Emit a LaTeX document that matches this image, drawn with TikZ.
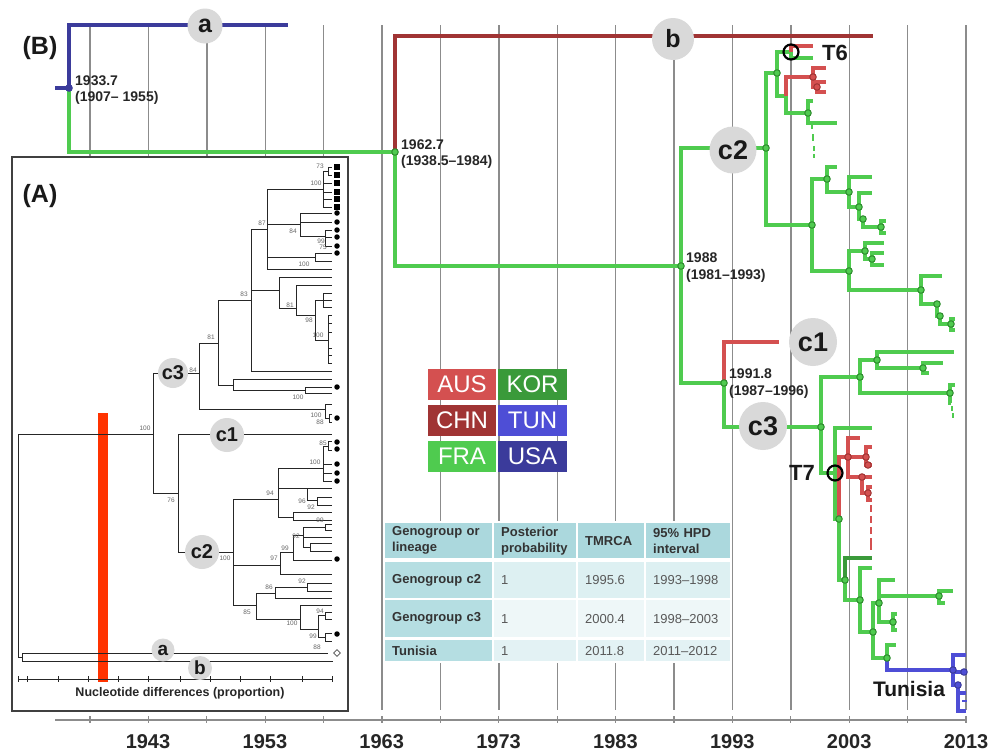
\documentclass[tikz,border=0pt]{standalone}
\usepackage{fontspec}
\setmainfont{Liberation Sans}
\usetikzlibrary{shapes.geometric}
\definecolor{fraC}{HTML}{4FCB4F}
\definecolor{fraD}{HTML}{2E8B2E}
\definecolor{ausC}{HTML}{D45050}
\definecolor{chnC}{HTML}{A03434}
\definecolor{korC}{HTML}{3A9A3A}
\definecolor{tunC}{HTML}{4E4ED6}
\definecolor{usaC}{HTML}{3B3B9B}
\definecolor{gridC}{HTML}{8C8C8C}
\definecolor{circC}{HTML}{D9D9D9}
\definecolor{thC}{HTML}{ABD8DD}
\definecolor{tcA}{HTML}{B5DEE2}
\definecolor{tbA}{HTML}{DDF0F2}
\definecolor{tbB}{HTML}{EEF7F8}
\definecolor{tbC}{HTML}{E3F2F4}
\definecolor{redbar}{HTML}{FF3300}
\begin{document}
\begin{tikzpicture}[x=1pt,y=-1pt]
\tikzset{
 br/.style={line width=3.2pt},
 fra/.style={br, draw=fraC},
 aus/.style={br, draw=ausC},
 chn/.style={br, draw=chnC},
 kor/.style={br, draw=korC},
 tun/.style={br, draw=tunC},
 usa/.style={br, draw=usaC},
 gdot/.style={circle, inner sep=0pt, minimum size=6.5pt, line width=1pt, draw=fraD, fill=fraC},
 rdot/.style={gdot, draw=chnC, fill=ausC},
 bdot/.style={gdot, draw=usaC, fill=tunC},
 ring/.style={circle, inner sep=0pt, minimum size=15pt, draw=black, line width=2.2pt},
 bigc/.style={circle, inner sep=0pt, fill=circC, font=\fontsize{27}{30}\selectfont\bfseries, text=black!90},
 smc/.style={circle, inner sep=0pt, fill=circC, font=\fontsize{20}{24}\selectfont\bfseries, text=black!90},
 nlbl/.style={anchor=west, inner sep=0pt, font=\fontsize{14}{16}\selectfont\bfseries, text=black!85},
 tlbl/.style={inner sep=0pt, font=\fontsize{22}{26}\selectfont\bfseries, text=black!90},
 yearl/.style={inner sep=0pt, font=\fontsize{20}{24}\selectfont\bfseries, text=black!85},
 gridl/.style={draw=gridC, line width=1.4pt},
 pa/.style={draw=black!85, line width=1pt},
 supl/.style={inner sep=0pt, font=\fontsize{6.5}{7}\selectfont, text=black!60},
 leg/.style={rectangle, inner sep=0pt, minimum height=31pt, text=white, font=\fontsize{24}{28}\selectfont},
 cell/.style={anchor=north west, inner xsep=7pt, inner ysep=0pt, align=left, font=\fontsize{13}{16}\selectfont, text=black!65},
 panl/.style={inner sep=0pt, font=\fontsize{25}{30}\selectfont\bfseries, text=black!90},
}
\useasboundingbox (0,0) rectangle (1006,755);
\fill[white] (0,0) rectangle (1006,755);

% grid
\foreach \k in {0,...,15} \draw[gridl] ({90+58.4*\k},25) -- ({90+58.4*\k},710);
% axis
\draw[draw=gridC, line width=1.4pt] (55,720) -- (967,720);
\foreach \k in {0,...,15} \draw[draw=gridC, line width=1.2pt] ({90+58.4*\k},716) -- ({90+58.4*\k},723);
\foreach \yr/\xx [count=\i] in {1943/148,1953/264.9,1963/381.7,1973/498.6,1983/615.4,1993/732.3,2003/849.2,2013/966}
  \node[yearl] (yr\i) at (\xx,742) {\yr};

% ---------- Panel A ----------
\draw[line width=1.5pt, draw=black!75, fill=white] (12,157) rectangle (348,711);
\node[panl] (labA) at (40,196) {(A)};
\fill[redbar] (98,413) rectangle (108,682);
\draw[pa]
 (18,434)--(18,657) (18,434)--(153,434) (18,657)--(22,657) (22,653)--(22,661)
 (22,653)--(328,653) (22,661)--(333,661)
 (153,373)--(153,493) (153,373)--(199,373) (153,493)--(178,493)
 (178,434)--(178,552) (178,434)--(332,434) (178,552)--(233,552)
 (199,343)--(199,409) (199,343)--(218,343) (199,409)--(325,409)
 (325,404)--(325,418) (325,404)--(332,404) (325,418)--(329,418) (329,414)--(329,422)
 (329,414)--(332,414) (329,422)--(332,422)
 (218,300)--(218,385) (218,300)--(251,300) (218,385)--(233,385)
 (233,379)--(233,390) (233,379)--(332,379) (233,390)--(305,390)
 (305,387)--(305,393) (305,387)--(332,387) (305,393)--(332,393)
 (251,229)--(251,371) (251,229)--(267,229) (251,290)--(279,290) (251,371)--(332,371)
 (279,277)--(279,308) (279,277)--(332,277) (279,308)--(296,308)
 (296,285)--(296,315) (296,285)--(332,285) (296,315)--(315,315)
 (315,300)--(315,340) (315,300)--(323,300) (323,293)--(323,307) (323,293)--(332,293)
 (323,300)--(332,300) (323,307)--(332,307) (315,340)--(328,340) (328,315)--(328,363)
 (328,315)--(332,315) (328,323)--(332,323) (328,332)--(332,332) (328,348)--(332,348)
 (328,355)--(332,355) (328,363)--(332,363)
 (267,189)--(267,269) (267,189)--(323,189) (267,224)--(300,224) (267,257)--(315,257) (267,269)--(332,269)
 (323,171)--(323,207) (323,171)--(328,171) (328,167)--(328,175) (328,167)--(332,167)
 (328,175)--(332,175) (323,183)--(332,183) (323,192)--(332,192) (323,199)--(332,199) (323,207)--(332,207)
 (300,213)--(300,236) (300,213)--(332,213) (300,222)--(332,222) (300,236)--(325,236)
 (325,230)--(325,246) (325,230)--(332,230) (325,237)--(332,237) (325,246)--(332,246)
 (315,253)--(315,261) (315,253)--(332,253) (315,261)--(332,261)
 (233,499)--(233,605) (233,499)--(278,499) (233,565)--(280,565) (233,605)--(256,605)
 (278,468)--(278,517) (278,468)--(323,468) (278,488)--(307,488) (278,517)--(293,517)
 (323,446)--(323,481) (323,446)--(328,446) (328,441)--(328,450) (328,441)--(332,441)
 (328,450)--(332,450) (323,464)--(332,464) (323,473)--(332,473) (323,481)--(332,481)
 (307,488)--(307,500) (307,488)--(332,488) (307,500)--(317,500) (317,497)--(317,505)
 (317,497)--(332,497) (317,505)--(332,505)
 (293,512)--(293,520) (293,512)--(332,512) (293,520)--(332,520)
 (280,552)--(280,574) (280,574)--(332,574) (280,552)--(293,552)
 (293,535)--(293,560) (293,560)--(332,560) (293,535)--(303,535)
 (303,527)--(303,547) (303,527)--(325,527) (325,524)--(325,530) (325,524)--(332,524)
 (325,530)--(332,530) (303,537)--(332,537) (303,547)--(310,547) (310,543)--(310,551)
 (310,543)--(332,543) (310,551)--(332,551)
 (256,593)--(256,619) (256,593)--(275,593) (256,619)--(300,619)
 (275,587)--(275,598) (275,587)--(307,587) (275,598)--(332,598)
 (307,583)--(307,591) (307,583)--(332,583) (307,591)--(332,591)
 (300,605)--(300,629) (300,605)--(332,605) (300,629)--(318,629)
 (318,615)--(318,637) (318,615)--(325,615) (325,612)--(325,619) (325,612)--(332,612)
 (325,619)--(332,619) (318,637)--(325,637) (325,633)--(325,641) (325,633)--(332,633) (325,641)--(332,641);
% tip markers
\foreach \yy [count=\i] in {167,175,183,192,199,207}
  \node[rectangle, fill=black, inner sep=0pt, minimum size=5.5pt] (sq\i) at (337,\yy) {};
\foreach \yy [count=\i] in {213,222,230,237,246,253,387,418,442,449,464,473,481,559,634}
  \node[circle, fill=black, inner sep=0pt, minimum size=5.5pt] (bd\i) at (337,\yy) {};
\node[diamond, draw=black!70, fill=white, inner sep=0pt, minimum size=7pt, line width=0.7pt] (dia) at (337,653) {};
% support values
\foreach \t/\xx/\yy [count=\i] in {73/320/166,100/316/183,84/293/231,99/321/241,75/323/247,100/304/264,
  87/262/223,83/244/294,81/290/305,98/309/320,100/318/335,81/211/337,84/193/370,100/298/397,
  100/316/415,88/320/422,100/145/428,76/171/500,100/225/558,94/270/493,100/315/462,85/323/443,
  96/302/501,92/311/507,99/320/520,92/296/536,99/285/548,97/274/558,86/269/587,92/302/581,
  85/247/612,100/292/623,94/320/611,99/313/636,88/317/647}
  \node[supl] (sv\i) at (\xx,\yy) {\t};
% scale
\draw[pa] (18,679) -- (332,679);
\foreach \xx [count=\i] in {18,27,58,88,118,148,180,210,240,270,302,332}
  \draw[pa] (\xx,676) -- (\xx,682);
\node[inner sep=0pt, font=\fontsize{12.5}{14}\selectfont\bfseries, text=black!85] (ndp) at (180,693) {Nucleotide differences (proportion)};
% circles panel A
\node[smc, minimum size=30pt] (Ac3) at (173,373) {c3};
\node[smc, minimum size=34pt] (Ac1) at (227,435) {c1};
\node[smc, minimum size=34pt] (Ac2) at (202,552) {c2};
\node[smc, minimum size=23pt, font=\fontsize{19}{22}\selectfont\bfseries] (Aa) at (163,650) {a};
\node[smc, minimum size=24pt, font=\fontsize{19}{22}\selectfont\bfseries] (Ab) at (200,668) {b};

% ---------- Legend ----------
\node[leg, fill=ausC, minimum width=68pt] (lAUS) at (462,384.5) {AUS};
\node[leg, fill=korC, minimum width=69pt] (lKOR) at (532.5,384.5) {KOR};
\node[leg, fill=chnC, minimum width=68pt] (lCHN) at (462,420) {CHN};
\node[leg, fill=tunC, minimum width=69pt] (lTUN) at (532.5,420) {TUN};
\node[leg, fill=fraC, minimum width=68pt] (lFRA) at (462,456) {FRA};
\node[leg, fill=usaC, minimum width=69pt] (lUSA) at (532.5,456) {USA};

% ---------- Table ----------
\fill[white] (383,521) rectangle (732,663);
\node[cell, fill=thC, text width=93pt, minimum height=35pt, font=\fontsize{13}{16}\selectfont\bfseries, text=black!80] (h1) at (385,523) {Genogroup or\\lineage};
\node[cell, fill=thC, text width=68pt, minimum height=35pt, font=\fontsize{13}{16}\selectfont\bfseries, text=black!80] (h2) at (494,523) {Posterior\\probability};
\node[cell, fill=thC, text width=52pt, minimum height=35pt, font=\fontsize{13}{16}\selectfont\bfseries, text=black!80] (h3) at (578,523) {TMRCA};
\node[cell, fill=thC, text width=70pt, minimum height=35pt, font=\fontsize{13}{16}\selectfont\bfseries, text=black!80] (h4) at (646,523) {95\% HPD\\interval};
\node[cell, fill=tcA, text width=93pt, minimum height=36pt, font=\fontsize{13}{16}\selectfont\bfseries, text=black!80] (a1) at (385,562) {Genogroup c2};
\node[cell, fill=tbA, text width=68pt, minimum height=36pt] (a2) at (494,562) {1};
\node[cell, fill=tbA, text width=52pt, minimum height=36pt] (a3) at (578,562) {1995.6};
\node[cell, fill=tbA, text width=70pt, minimum height=36pt] (a4) at (646,562) {1993–1998};
\node[cell, fill=tcA, text width=93pt, minimum height=37pt, font=\fontsize{13}{16}\selectfont\bfseries, text=black!80] (b1c) at (385,600) {Genogroup c3};
\node[cell, fill=tbB, text width=68pt, minimum height=37pt] (b2c) at (494,600) {1};
\node[cell, fill=tbB, text width=52pt, minimum height=37pt] (b3c) at (578,600) {2000.4};
\node[cell, fill=tbB, text width=70pt, minimum height=37pt] (b4c) at (646,600) {1998–2003};
\node[cell, fill=tcA, text width=93pt, minimum height=21pt, font=\fontsize{13}{16}\selectfont\bfseries, text=black!80] (c1c) at (385,640) {Tunisia};
\node[cell, fill=tbC, text width=68pt, minimum height=21pt] (c2c) at (494,640) {1};
\node[cell, fill=tbC, text width=52pt, minimum height=21pt] (c3c) at (578,640) {2011.8};
\node[cell, fill=tbC, text width=70pt, minimum height=21pt] (c4c) at (646,640) {2011–2012};

% ---------- Panel B tree ----------
\node[panl] (labB) at (40,48) {(B)};
\coordinate (rin) at (55,88);
\coordinate (r0) at (69,88);
\coordinate (aend) at (288,25);
\coordinate (n62) at (395,152);
\coordinate (bend) at (873,36);
\coordinate (n88) at (681,266);
\coordinate (n91) at (724,383);
\coordinate (c2n) at (766,148);
\coordinate (c1end) at (779,342);
\coordinate (c3n) at (821,427);
\draw[usa] (rin) -- (r0);
\draw[usa] (r0) |- (aend);
\draw[fra] (r0) |- (n62);
\draw[chn] (n62) |- (bend);
\draw[fra] (n62) |- (n88);
\draw[fra] (n88) |- (c2n);
\draw[fra] (n88) |- (n91);
\draw[aus] (n91) |- (c1end);
\draw[fra] (n91) |- (c3n);

% c2 subtree
\coordinate (u1) at (777,73);
\coordinate (t6n) at (791,52);
\coordinate (u2) at (786,96);
\coordinate (r1) at (813,77);
\coordinate (r2) at (817,87);
\coordinate (u3) at (808,113);
\coordinate (l1) at (812,225);
\coordinate (m1) at (827,179);
\coordinate (m3) at (849,192);
\coordinate (m4) at (859,207);
\coordinate (m6) at (863,219);
\coordinate (m7) at (881,227);
\coordinate (m2) at (849,271);
\coordinate (m8) at (865,251);
\coordinate (m10) at (872,259);
\coordinate (m9) at (921,290);
\coordinate (m11) at (937,304);
\coordinate (m12) at (940,316);
\coordinate (m13) at (951,324);
\draw[fra] (c2n) |- (u1);
\draw[fra] (c2n) |- (l1);
\draw[fra] (u1) |- (t6n);
\draw[fra] (u1) |- (u2);
\draw[aus] (t6n) |- (813,46);
\draw[fra] (t6n) |- (813,58);
\draw[aus] (u2) |- (r1);
\draw[fra] (u2) |- (u3);
\draw[aus] (r1) |- (826,68);
\draw[aus] (r1) |- (r2);
\draw[aus] (r2) |- (826,82);
\draw[aus] (r2) |- (826,92);
\draw[fra] (u3) |- (813,101);
\draw[fra] (u3) |- (837,123);
\draw[fra, line width=2pt] (812,123)--(812,129) (813,134)--(813,141) (814,146)--(814,151) (814,154)--(814,158);
\draw[fra] (l1) |- (m1);
\draw[fra] (l1) |- (m2);
\draw[fra] (m1) |- (837,167);
\draw[fra] (m1) |- (m3);
\draw[fra] (m3) |- (872,177);
\draw[fra] (m3) |- (m4);
\draw[fra] (m4) |- (872,193);
\draw[fra] (m4) |- (m6);
\draw[fra] (m6) |- (m7);
\draw[fra] (m7) |- (886,221);
\draw[fra] (m7) |- (886,233);
\draw[fra] (m2) |- (m8);
\draw[fra] (m2) |- (m9);
\draw[fra] (m8) |- (884,243);
\draw[fra] (m8) |- (m10);
\draw[fra] (m10) |- (884,253);
\draw[fra] (m10) |- (884,265);
\draw[fra] (m9) |- (942,276);
\draw[fra] (m9) |- (m11);
\draw[fra] (m11) |- (m12);
\draw[fra] (m12) |- (m13);
\draw[fra] (m13) |- (955,319);
\draw[fra] (m13) |- (955,330);

% c3 subtree
\coordinate (p1) at (860,377);
\coordinate (p2) at (877,360);
\coordinate (p3) at (923,368);
\coordinate (p4) at (950,393);
\coordinate (p5) at (951,403);
\coordinate (t7n) at (835,473);
\coordinate (q1) at (839,519);
\coordinate (q2) at (845,580);
\coordinate (q3) at (860,600);
\coordinate (q4) at (873,632);
\coordinate (q5) at (879,603);
\coordinate (qq) at (939,596);
\coordinate (q6) at (893,622);
\coordinate (q7) at (887,658);
\coordinate (bb1) at (953,670);
\coordinate (bb2) at (964,672);
\coordinate (bb3) at (958,685);
\coordinate (rr1) at (848,457);
\coordinate (rr2) at (862,477);
\coordinate (rr3) at (866,457);
\coordinate (rr4) at (868,465);
\coordinate (rr5) at (868,493);
\draw[fra] (c3n) |- (p1);
\draw[fra] (c3n) |- (t7n);
\draw[fra] (p1) |- (p2);
\draw[fra] (p1) |- (p4);
\draw[fra] (p2) |- (954,352);
\draw[fra] (p2) |- (p3);
\draw[fra] (p3) |- (943,363);
\draw[fra] (p3) |- (929,373);
\draw[fra] (p4) |- (955,385);
\draw[fra] (p4) |- (p5);
\draw[fra, line width=2pt] (952,406)--(952,411) (953,413)--(953,418);
\draw[fra] (t7n) |- (872,428);
\draw[fra] (t7n) |- (q1);
\draw[aus] (q1) |- (rr1);
\draw[aus] (rr1) |- (860,438);
\draw[aus] (rr1) |- (rr2);
\draw[aus] (rr1) -- (rr3);
\draw[aus] (rr3) |- (872,447);
\draw[aus] (rr3) |- (rr4);
\draw[aus] (rr4) -- (872,465);
\draw[aus] (rr2) -- (872,477);
\draw[aus] (rr2) |- (rr5);
\draw[aus] (rr5) |- (872,487);
\draw[aus] (rr5) |- (872,500);
\draw[aus, line width=2pt] (871,505)--(871,512) (871,516)--(871,523) (871,527)--(871,534) (871,538)--(871,550);
\draw[kor] (q2) |- (872,558);
\draw[fra] (q1) |- (q2);
\draw[fra] (q2) |- (q3);
\draw[fra] (q3) |- (872,568);
\draw[fra] (q3) |- (q4);
\draw[fra] (q4) |- (q5);
\draw[fra] (q4) |- (q7);
\draw[fra] (q5) |- (895,580);
\draw[fra] (q5) |- (qq);
\draw[fra] (qq) |- (953,591);
\draw[fra] (qq) |- (945,603);
\draw[fra] (q5) |- (q6);
\draw[fra] (q6) |- (897,614);
\draw[fra] (q6) |- (897,630);
\draw[fra] (q7) |- (896,645);
\draw[tun] (q7) |- (bb1);
\draw[tun] (bb1) |- (966,655);
\draw[tun] (bb1) |- (bb2);
\draw[tun] (bb2) -- (967,672);
\draw[tun] (bb1) |- (bb3);
\draw[tun] (bb3) |- (966,693);
\draw[tun] (bb3) |- (966,711);
\draw[tun, line width=2pt] (962,701)--(967,701);

% dots
\node[bdot, draw=usaC, fill=usaC] (dr0) at (r0) {};
\foreach \p [count=\i] in {n62,n88,n91,c2n,u1,u3,l1,m1,m3,m4,m6,m7,m2,m8,m10,m9,m11,m12,m13,c3n,p1,p2,p3,p4,q1,q2,q3,q4,q5,qq,q6,q7}
  \node[gdot] (gd\i) at (\p) {};
\foreach \p [count=\i] in {r1,r2,rr1,rr2,rr3,rr4,rr5}
  \node[rdot] (rd\i) at (\p) {};
\foreach \p [count=\i] in {bb1,bb2,bb3}
  \node[bdot] (bdd\i) at (\p) {};
\node[ring] (T6ring) at (t6n) {};
\node[ring] (T7ring) at (t7n) {};
\node[tlbl] (T6) at (835,53) {T6};
\node[tlbl] (T7) at (802,473) {T7};
\node[tlbl, font=\fontsize{21}{24}\selectfont\bfseries] (Tun) at (909,689) {Tunisia};

% clade circles
\node[bigc, minimum size=35pt, font=\fontsize{25}{28}\selectfont\bfseries] (Ba) at (205,26) {a};
\node[bigc, minimum size=42pt, font=\fontsize{25}{28}\selectfont\bfseries] (Bb) at (673,39) {b};
\node[bigc, minimum size=47pt] (Bc2) at (733,150) {c2};
\node[bigc, minimum size=48pt] (Bc1) at (813,342) {c1};
\node[bigc, minimum size=48pt] (Bc3) at (763,426) {c3};

% node labels
\node[nlbl] (l1a) at (75,81) {1933.7};
\node[nlbl] (l1b) at (75,98) {(1907– 1955)};
\node[nlbl] (l2a) at (401,145) {1962.7};
\node[nlbl] (l2b) at (401,162) {(1938.5–1984)};
\node[nlbl] (l3a) at (686,258) {1988};
\node[nlbl] (l3b) at (686,276) {(1981–1993)};
\node[nlbl] (l4a) at (729,374) {1991.8};
\node[nlbl] (l4b) at (729,392) {(1987–1996)};
\end{tikzpicture}
\end{document}
